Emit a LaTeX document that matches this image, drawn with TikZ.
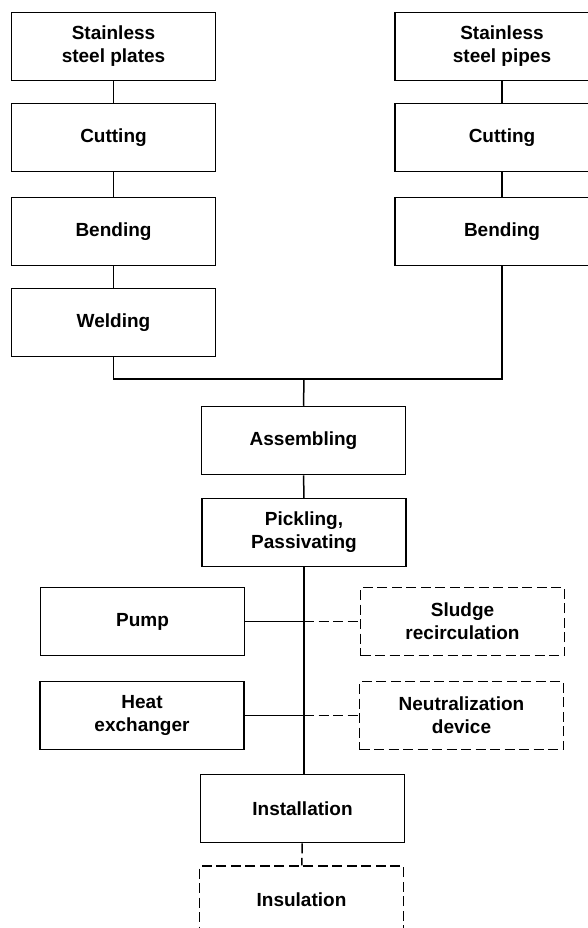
\documentclass[tikz,border=0pt]{standalone}
\usepackage{fontspec}
\setmainfont{Liberation Sans}
\begin{document}
\begin{tikzpicture}[x=1pt, y=-1pt,
  box/.style={draw, line width=1.5pt, rectangle, inner sep=0pt,
    minimum width=#1, minimum height=68pt, align=center,
    font=\bfseries\fontsize{19}{23}\selectfont},
  box/.default=204pt,
  optbox/.style={box=#1, dashed, dash pattern=on 10pt off 4.5pt},
  optbox/.default=204pt,
  link/.style={line width=1.5pt},
  optlink/.style={line width=1.5pt, dash pattern=on 10pt off 4.5pt}]
\useasboundingbox (0,0) rectangle (587,928);

% plate line
\node[box] (plates) at (113.5,46.5) {Stainless\\steel plates};
\node[box] (pcut)   at (113.5,137.5) {Cutting};
\node[box] (pbend)  at (113.5,231.5) {Bending};
\node[box] (weld)   at (113.5,322.5) {Welding};

% pipe line
\node[box=214pt] (pipes) at (502,46.5) {Stainless\\steel pipes};
\node[box=214pt] (tcut)  at (502,137.5) {Cutting};
\node[box=214pt] (tbend) at (502,231.5) {Bending};

% main line
\node[box] (assem)   at (303.5,440.5) {Assembling};
\node[box] (pickle)  at (304,532.5) {Pickling,\\Passivating};
\node[box] (install) at (302.5,808.5) {Installation};
\node[optbox] (insul) at (301.5,900) {Insulation};

% side equipment
\node[box] (pump) at (142.5,621.5) {Pump};
\node[box] (heat) at (142,715.5) {Heat\\exchanger};
\node[optbox] (sludge) at (462.5,621.5) {Sludge\\recirculation};
\node[optbox] (neutr)  at (461.5,715.5) {Neutralization\\device};

\coordinate (bus) at (304,379);

% connectors
\draw[link] (plates) -- (pcut);
\draw[link] (pcut) -- (pbend);
\draw[link] (pbend) -- (weld);
\draw[link] (pipes) -- (tcut);
\draw[link] (tcut) -- (tbend);
\draw[link] (weld.south) -- (weld.south |- bus) -- (tbend.south |- bus) -- (tbend.south);
\draw[link] (bus) -- (assem.north);
\draw[link] (assem) -- (pickle);
\draw[link] (pickle.south) -- (install.north -| pickle.south);
\coordinate (jp) at (pump.east -| pickle.south);
\coordinate (jh) at (heat.east -| pickle.south);
\draw[link] (pump.east) -- (jp);
\draw[optlink] (jp) -- (sludge.west);
\draw[link] (heat.east) -- (jh);
\draw[optlink] (jh) -- (neutr.west);
\draw[optlink] (install) -- (insul);
\end{tikzpicture}
\end{document}
